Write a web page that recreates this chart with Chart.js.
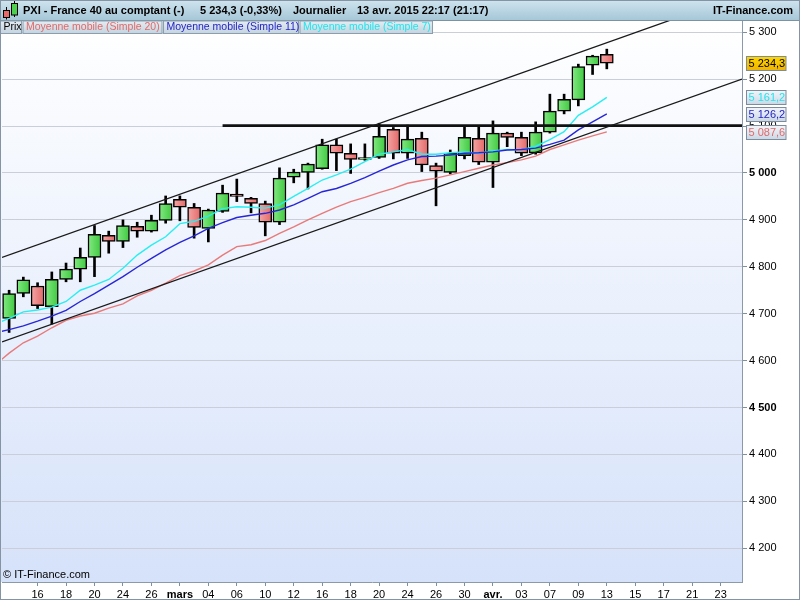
<!doctype html>
<html lang="fr">
<head>
<meta charset="utf-8">
<title>PXI - France 40 au comptant</title>
<script src="https://cdn.jsdelivr.net/npm/chart.js"></script>
<style>
  html, body { margin: 0; padding: 0; background: #fff; }
  #wrap { position: relative; width: 800px; height: 600px; }
</style>
</head>
<body>
<div id="wrap"><canvas id="pxChart" width="800" height="600"></canvas></div>
<script>
// jours de bourse (etiquettes de l'axe)
const days = ['12','13','16','17','18','19','20','23','24','25','26','27','mars','03','04','05','06','09','10','11','12','13','16','17','18','19','20','23','24','25','26','27','30','31','avr.','02','03','06','07','08','09','10','13','14','15','16','17','20','21','22','23','24'];

// graduations de l'axe des prix
const yTicks = [4200, 4300, 4400, 4500, 4600, 4700, 4800, 4900, 5000, 5100, 5200, 5300];

// bougies
const opens  = [4690,4743,4759,4715,4773,4795,4820,4867,4854,4886,4876,4899,4944,4927,4882,4918,4955,4946,4935,4895,4991,5001,5009,5060,5042,5029,5033,5093,5042,5074,5016,5001,5037,5074,5023,5085,5076,5043,5087,5132,5156,5230,5253];
const highs  = [4750,4778,4766,4789,4808,4840,4888,4876,4900,4895,4910,4951,4951,4935,4923,4974,4987,4948,4940,5011,5008,5021,5072,5072,5062,5062,5106,5097,5102,5087,5021,5049,5099,5099,5111,5087,5087,5109,5168,5168,5232,5251,5264];
const lows   = [4660,4736,4711,4678,4768,4768,4779,4829,4841,4863,4874,4893,4898,4861,4853,4916,4939,4915,4866,4890,4979,4966,5008,5005,4999,5027,5031,5030,5031,5003,4930,4998,5030,5018,4969,5056,5037,5040,5085,5126,5143,5210,5222];
const closes = [4743,4772,4717,4773,4795,4820,4869,4854,4888,4876,4899,4935,4927,4884,4921,4957,4950,4935,4895,4989,5002,5019,5060,5042,5029,5033,5078,5042,5072,5017,5004,5042,5076,5023,5085,5076,5042,5087,5132,5157,5227,5249,5234.3];

// moyennes mobiles (premier point = jour precedent le premier jour affiche)
const ma20 = [4590,4616,4638,4652,4670,4686,4695,4701,4712,4721,4738,4750,4765,4781,4791,4804,4825,4843,4847,4856,4871,4885,4900,4914,4927,4939,4948,4958,4967,4978,4984,4989,4996,5003,5010,5017,5022,5028,5036,5050,5060,5070,5079,5087.6];
const ma11 = [4659,4666,4674,4684,4695,4707,4726,4743,4761,4779,4799,4818,4836,4852,4866,4882,4894,4905,4910,4914,4921,4932,4946,4960,4967,4978,4990,5004,5017,5028,5035,5036,5038,5042,5043,5045,5049,5050,5053,5061,5070,5092,5109,5126.2];
const ma7  = [4678,4690,4704,4708,4714,4726,4750,4761,4773,4797,4825,4846,4864,4892,4897,4908,4924,4928,4927,4925,4932,4950,4967,4985,4996,5008,5024,5040,5045,5050,5040,5040,5043,5045,5042,5047,5050,5049,5057,5071,5088,5123,5141,5161.2];
const maStart = -1;

// droites tracees
const trendX = [-0.5, 51.5];
const canalHaut = [4820, 5380];
const canalBas = [4640, 5200];
const resistX = [15, 51.5];
const resistY = [5101, 5101];

const FONT = '"Liberation Sans", Arial, sans-serif';

function frNum(v, dec) {
  const s = v.toFixed(dec).split('.');
  const ent = s[0].replace(/\B(?=(\d{3})+(?!\d))/g, ' ');
  return s.length > 1 ? ent + ',' + s[1] : ent;
}

function bodyFill(ctx) {
  const i = ctx.dataIndex;
  const up = closes[i] >= opens[i];
  const xs = ctx.chart.scales.x;
  if (!xs || !xs.width) return up ? '#5cd65c' : '#ec7c7c';
  const cx = xs.getPixelForValue(i);
  const g = ctx.chart.ctx.createLinearGradient(cx - 6, 0, cx + 6, 0);
  if (up) { g.addColorStop(0, '#80e880'); g.addColorStop(1, '#42ca42'); }
  else { g.addColorStop(0, '#f4a4a4'); g.addColorStop(1, '#e46a6a'); }
  return g;
}

function linePts(xs, ys) {
  return ys.map((v, i) => ({x: xs[i], y: v}));
}
function maPts(arr) {
  return arr.map((v, i) => ({x: i + maStart, y: v}));
}

const decor = {
  id: 'decor',
  beforeDraw(chart) {
    const {ctx, chartArea: a} = chart;
    ctx.save();
    ctx.fillStyle = '#fff';
    ctx.fillRect(0, 0, chart.width, chart.height);
    const g = ctx.createLinearGradient(0, a.top, 0, a.bottom);
    g.addColorStop(0, '#ffffff');
    g.addColorStop(1, '#d6e2fa');
    ctx.fillStyle = g;
    ctx.fillRect(0, a.top, a.right, a.bottom - a.top);
    ctx.restore();
  },
  afterDraw(chart) {
    const {ctx} = chart;
    const ys = chart.scales.y;
    ctx.save();

    // bandeau du haut
    const hg = ctx.createLinearGradient(0, 0, 0, 20);
    hg.addColorStop(0, '#cfe4ee');
    hg.addColorStop(1, '#a6c7d8');
    ctx.fillStyle = hg;
    ctx.fillRect(0, 0, chart.width, 20);
    ctx.strokeStyle = '#7d93a3';
    ctx.lineWidth = 1;
    ctx.beginPath(); ctx.moveTo(0, 20.5); ctx.lineTo(chart.width, 20.5); ctx.stroke();

    // petite icone
    ctx.strokeStyle = '#000';
    ctx.beginPath(); ctx.moveTo(6.5, 7); ctx.lineTo(6.5, 19.5); ctx.moveTo(14.5, 1); ctx.lineTo(14.5, 17); ctx.stroke();
    ctx.fillStyle = '#e86a6a'; ctx.fillRect(3.5, 10.5, 6, 7); ctx.strokeRect(3.5, 10.5, 6, 7);
    ctx.fillStyle = '#4ed04e'; ctx.fillRect(11.5, 3.5, 6, 11.5); ctx.strokeRect(11.5, 3.5, 6, 11.5);

    ctx.fillStyle = '#000';
    ctx.font = 'bold 11px ' + FONT;
    ctx.textBaseline = 'middle';
    ctx.textAlign = 'left';
    ctx.fillText('PXI - France 40 au comptant (-)', 23, 11);
    ctx.fillText('5 234,3 (-0,33%)', 200, 11);
    ctx.fillText('Journalier', 293, 11);
    ctx.fillText('13 avr. 2015 22:17 (21:17)', 357, 11);
    ctx.textAlign = 'right';
    ctx.fillText('IT-Finance.com', 793, 11);

    // legende
    const items = [
      ['Prix', '#000', 0, 22],
      ['Moyenne mobile (Simple 20)', '#e06a6a', 22.5, 162.5],
      ['Moyenne mobile (Simple 11)', '#2424c8', 163, 299],
      ['Moyenne mobile (Simple 7)', '#1ee6ee', 299.5, 433]
    ];
    ctx.font = '10.5px ' + FONT;
    ctx.textAlign = 'left';
    items.forEach(([txt, col, x0, x1]) => {
      const bg = ctx.createLinearGradient(0, 21, 0, 34);
      bg.addColorStop(0, '#e4ecf2');
      bg.addColorStop(1, '#c3d3de');
      ctx.fillStyle = bg;
      ctx.fillRect(x0, 21, x1 - x0, 13);
      ctx.strokeStyle = '#8a9eae';
      ctx.strokeRect(x0 + 0.5, 21, x1 - x0 - 1, 12.5);
      ctx.fillStyle = col;
      ctx.fillText(txt, x0 + 3.5, 27.5);
    });

    // etiquettes de valeurs sur l'axe
    const last = closes.length - 1;
    const tags = [
      [closes[last], '#000', ['#ffd800', '#f0b400']],
      [ma7[ma7.length - 1], '#1ee6ee', ['#f4f7fb', '#ccd8e6']],
      [ma11[ma11.length - 1], '#2424c8', ['#f4f7fb', '#ccd8e6']],
      [ma20[ma20.length - 1], '#e06a6a', ['#f4f7fb', '#ccd8e6']]
    ];
    ctx.font = '11px ' + FONT;
    tags.forEach(([v, fg, bgc]) => {
      const py = Math.round(ys.getPixelForValue(v));
      const g = ctx.createLinearGradient(0, py - 7, 0, py + 7);
      g.addColorStop(0, bgc[0]); g.addColorStop(1, bgc[1]);
      ctx.fillStyle = g;
      ctx.fillRect(746.5, py - 6.5, 39.5, 14);
      ctx.strokeStyle = '#7c8c9c';
      ctx.strokeRect(746.5, py - 6.5, 39.5, 14);
      ctx.fillStyle = fg;
      ctx.fillText(frNum(v, 1), 748.5, py + 0.5);
    });

    // copyright
    ctx.fillStyle = '#000';
    ctx.font = '11px ' + FONT;
    ctx.fillText('\u00a9 IT-Finance.com', 3, 575);

    // cadre
    ctx.strokeStyle = '#8494a4';
    ctx.strokeRect(0.5, 0.5, chart.width - 1, chart.height - 1);
    ctx.restore();
  }
};

new Chart(document.getElementById('pxChart').getContext('2d'), {
  type: 'bar',
  data: {
    labels: days,
    datasets: [
      {
        label: 'Moyenne mobile (Simple 20)', type: 'line', xAxisID: 'x2',
        data: maPts(ma20), borderColor: '#e87a7a', borderWidth: 1.4,
        pointRadius: 0, tension: 0, order: 1
      },
      {
        label: 'Moyenne mobile (Simple 11)', type: 'line', xAxisID: 'x2',
        data: maPts(ma11), borderColor: '#2626d6', borderWidth: 1.4,
        pointRadius: 0, tension: 0, order: 1
      },
      {
        label: 'Moyenne mobile (Simple 7)', type: 'line', xAxisID: 'x2',
        data: maPts(ma7), borderColor: '#28eef2', borderWidth: 1.4,
        pointRadius: 0, tension: 0, order: 1
      },
      {
        label: 'canal haut', type: 'line', xAxisID: 'x2',
        data: linePts(trendX, canalHaut), borderColor: '#1a1a1a', borderWidth: 1.3,
        pointRadius: 0, order: 0
      },
      {
        label: 'canal bas', type: 'line', xAxisID: 'x2',
        data: linePts(trendX, canalBas), borderColor: '#1a1a1a', borderWidth: 1.3,
        pointRadius: 0, order: 0
      },
      {
        label: 'resistance', type: 'line', xAxisID: 'x2',
        data: linePts(resistX, resistY), borderColor: '#111', borderWidth: 2.6,
        pointRadius: 0, order: 0
      },
      {
        label: 'Prix', type: 'bar',
        data: opens.map((o, i) => [o, closes[i]]),
        backgroundColor: bodyFill, borderColor: '#000', borderWidth: 1.5,
        borderSkipped: false, barThickness: 13, grouped: false, order: 2
      },
      {
        label: 'meches', type: 'bar',
        data: lows.map((l, i) => [l, highs[i]]),
        backgroundColor: '#000', borderWidth: 0, barThickness: 2,
        grouped: false, order: 3
      }
    ]
  },
  options: {
    responsive: false,
    animation: false,
    devicePixelRatio: 1,
    layout: { padding: { left: 2, top: 21, right: 0, bottom: 0 } },
    plugins: { legend: { display: false }, tooltip: { enabled: false } },
    scales: {
      x: {
        type: 'category',
        offset: true,
        afterFit(scale) { scale.height = 18; },
        grid: {
          offset: false, drawOnChartArea: false, drawTicks: true, tickLength: 4,
          tickColor: (c) => (c.index >= 2 && c.index % 2 === 0) ? '#7f8f9f' : 'rgba(0,0,0,0)'
        },
        border: { color: '#8a9aaa', width: 1 },
        ticks: {
          autoSkip: false, maxRotation: 0, minRotation: 0, padding: 2, color: '#000',
          callback: (v, i) => (i >= 2 && i % 2 === 0) ? days[i] : '',
          font: (c) => (days[c.index] === 'mars' || days[c.index] === 'avr.')
            ? { family: FONT, size: 11, weight: 'bold', lineHeight: 1.2 }
            : { family: FONT, size: 11, weight: 'normal', lineHeight: 1.2 }
        }
      },
      x2: { type: 'linear', display: false, min: -0.5, max: 51.5, offset: false },
      y: {
        position: 'right',
        min: 4128,
        max: 5324,
        afterFit(scale) { scale.width = 58; },
        afterBuildTicks(scale) { scale.ticks = yTicks.map((v) => ({ value: v })); },
        grid: { color: '#c9ced8', tickColor: '#7f8f9f', tickLength: 5, drawTicks: true },
        border: { color: '#8a9aaa', width: 1 },
        ticks: {
          padding: 2, color: '#000',
          callback: (v) => frNum(v, 0),
          font: (c) => ({ family: FONT, size: 11, weight: (c.tick && c.tick.value % 500 === 0) ? 'bold' : 'normal' })
        }
      }
    }
  },
  plugins: [decor]
});
</script>
</body>
</html>
